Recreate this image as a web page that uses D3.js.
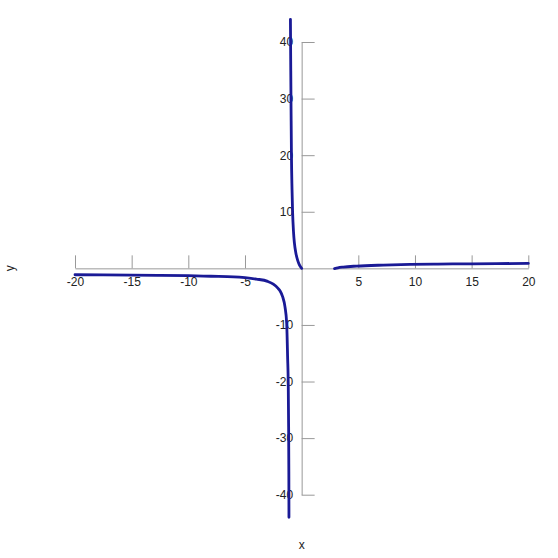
<!DOCTYPE html>
<html>
<head>
<meta charset="utf-8">
<script src="https://cdn.jsdelivr.net/npm/d3@7"></script>
<style>
  html, body { margin: 0; padding: 0; background: #fff; }
  svg { display: block; }
</style>
</head>
<body>
<svg id="chart" width="558" height="558"></svg>
<script>
// ---- data ----
const xTicks = [-20, -15, -10, -5, 5, 10, 15, 20];
const yTicks = [-40, -30, -20, -10, 10, 20, 30, 40];

// branch left of the asymptote (x < -1)
const leftX = [-20, -17.5, -15, -12.5, -10, -8, -6, -5, -4, -3, -2.5, -2.1, -1.9, -1.68, -1.47, -1.32, -1.24, -1.18, -1.15, -1.13, -1.12];
const leftY = [-1.13, -1.16, -1.2, -1.25, -1.3, -1.4, -1.5, -1.65, -1.9, -2.3, -2.8, -3.5, -4, -5, -6.8, -9.7, -15.6, -21, -28, -36, -44];

// branch between the asymptote and zero
const midX = [-0.99, -0.96, -0.93, -0.9, -0.85, -0.8, -0.72, -0.64, -0.5, -0.35, -0.2, 0];
const midY = [44, 35, 27, 20, 14, 10, 6.5, 4.5, 2.6, 1.4, 0.6, 0];

// branch for x > 3
const rightX = [2.9, 3.2, 3.67, 4.85, 7.2, 9.56, 12, 15, 20];
const rightY = [-0.05, 0.1, 0.23, 0.4, 0.58, 0.7, 0.76, 0.8, 0.88];

// ---- drawing ----
const svg = d3.select("#chart");
const x = d3.scaleLinear().domain([-20, 20]).range([75, 528.3]);
const y = d3.scaleLinear().domain([-40, 40]).range([494.7, 42]);

const font = "'Liberation Sans', Arial, sans-serif";
const axisColor = "#999";
const textColor = "#222";
const fmt = d => String(d);

const xAxis = d3.axisBottom(x).tickValues(xTicks).tickFormat(fmt).tickSizeInner(-13).tickSizeOuter(0).tickPadding(9);
const gx = svg.append("g").attr("transform", `translate(0,${y(0)})`).call(xAxis);

const yAxis = d3.axisLeft(y).tickValues(yTicks).tickFormat(fmt).tickSizeInner(-13).tickSizeOuter(0).tickPadding(8.5);
const gy = svg.append("g").attr("transform", `translate(${x(0)},0)`).call(yAxis);

[gx, gy].forEach(g => {
  g.select(".domain").attr("stroke", axisColor).attr("stroke-width", 1);
  g.selectAll(".tick line").attr("stroke", axisColor).attr("stroke-width", 1);
  g.selectAll(".tick text").attr("fill", textColor).style("font-family", font).style("font-size", "12px");
});

svg.append("text").attr("x", x(0)).attr("y", 549).attr("text-anchor", "middle")
  .attr("fill", textColor).style("font-family", font).style("font-size", "12px").text("x");
svg.append("text").attr("transform", `translate(14,${y(0)}) rotate(-90)`).attr("text-anchor", "middle")
  .attr("fill", textColor).style("font-family", font).style("font-size", "12px").text("y");

const line = d3.line().x(d => x(d[0])).y(d => y(d[1])).curve(d3.curveMonotoneX);
const branches = [
  d3.zip(leftX, leftY),
  d3.zip(midX, midY),
  d3.zip(rightX, rightY)
];
svg.append("g").selectAll("path").data(branches).join("path")
  .attr("d", line)
  .attr("fill", "none")
  .attr("stroke", "#1a1a96")
  .attr("stroke-width", 2.8)
  .attr("stroke-linecap", "round");
</script>
</body>
</html>
